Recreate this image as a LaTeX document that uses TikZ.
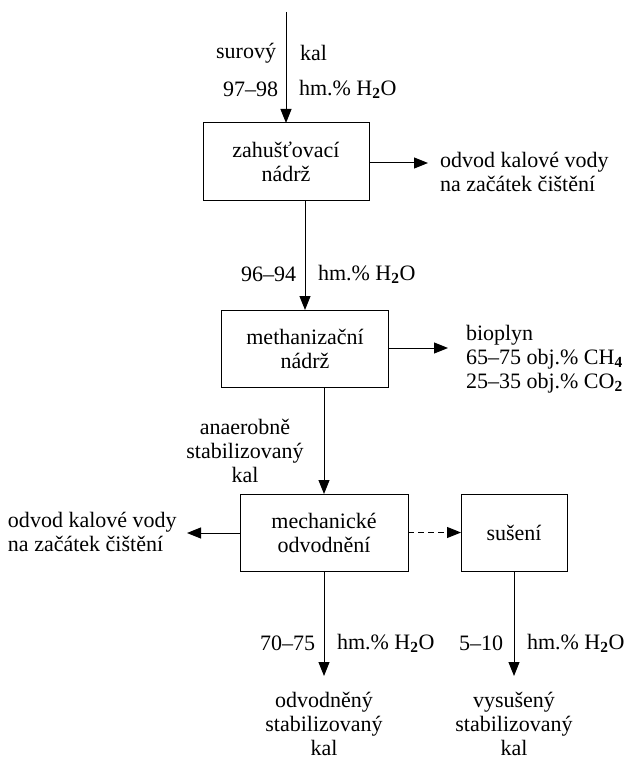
\documentclass[tikz,border=0pt]{standalone}
\usepackage{fontspec}
\setmainfont{Liberation Serif}
\newfontfamily\myserif{Liberation Serif}
\usetikzlibrary{arrows.meta}
\newcommand{\subb}[1]{\textsubscript{\textbf{#1}}}
\begin{document}
\begin{tikzpicture}[x=1pt,y=-1pt,
  font=\myserif\fontsize{22}{24}\selectfont,
  every node/.style={inner sep=0pt,outer sep=0pt},
  proc/.style={draw,line width=1pt,align=center,minimum height=77pt},
  flow/.style={line width=1pt,-{Triangle[length=14pt,width=11pt]}},
  dflow/.style={flow,dash pattern=on 6pt off 4pt},
  txt/.style={align=center},
  ltxt/.style={align=left,anchor=west},
  lbl/.style={anchor=east},
  rlbl/.style={anchor=west}]
\useasboundingbox (0,0) rectangle (628,762);
% boxes
\node[proc,minimum width=166pt] (b1) at (286,161.5) {zahušťovací\\nádrž};
\node[proc,minimum width=167pt] (b2) at (305,348.5) {methanizační\\nádrž};
\node[proc,minimum width=168pt] (b3) at (324,532.5) {mechanické\\odvodnění};
\node[proc,minimum width=106pt] (b4) at (514,532.5) {sušení};
% free ends
\coordinate (in) at (286,12);
\coordinate (b1top) at (286,123);
\coordinate (b1bot) at (305,200);
\coordinate (b2top) at (305,310);
\coordinate (b2bot) at (324,387);
\coordinate (o1) at (428,163);
\coordinate (o2) at (448,348);
\coordinate (o3) at (187,533);
\coordinate (e1) at (324,676);
\coordinate (e2) at (514,676);
% connectors
\draw[flow] (in) -- (b1top);
\draw[flow] (b1bot) -- (b2top);
\draw[flow] (b2bot) -- (b3.north);
\draw[flow] (b1.east |- o1) -- (o1);
\draw[flow] (b2.east |- o2) -- (o2);
\draw[flow] (b3.west |- o3) -- (o3);
\draw[dflow] (b3.east) -- (b4.west);
\draw[flow] (b3.south) -- (e1);
\draw[flow] (b4.south) -- (e2);
% labels
\node[lbl] (l1a) at (276,53) {surový};
\node[rlbl] (l1b) at (300,53) {kal};
\node[lbl] (l2a) at (278,89) {97–98};
\node[rlbl] (l2b) at (299,89) {hm.\% H\subb{2}O};
\node[lbl] (l3a) at (296,274) {96–94};
\node[rlbl] (l3b) at (318,274) {hm.\% H\subb{2}O};
\node[ltxt] (t1) at (440,172) {odvod kalové vody\\na začátek čištění};
\node[ltxt] (t2) at (466,359) {bioplyn\\65–75 obj.\% CH\subb{4}\\25–35 obj.\% CO\subb{2}};
\node[txt] (t3) at (245,451) {anaerobně\\stabilizovaný\\kal};
\node[ltxt] (t4) at (8,532) {odvod kalové vody\\na začátek čištění};
\node[lbl] (l4a) at (315,643) {70–75};
\node[rlbl] (l4b) at (337,643) {hm.\% H\subb{2}O};
\node[lbl] (l5a) at (503,643) {5–10};
\node[rlbl] (l5b) at (527,643) {hm.\% H\subb{2}O};
\node[txt] (t5) at (324,724) {odvodněný\\stabilizovaný\\kal};
\node[txt] (t6) at (514,724) {vysušený\\stabilizovaný\\kal};
\end{tikzpicture}
\end{document}
